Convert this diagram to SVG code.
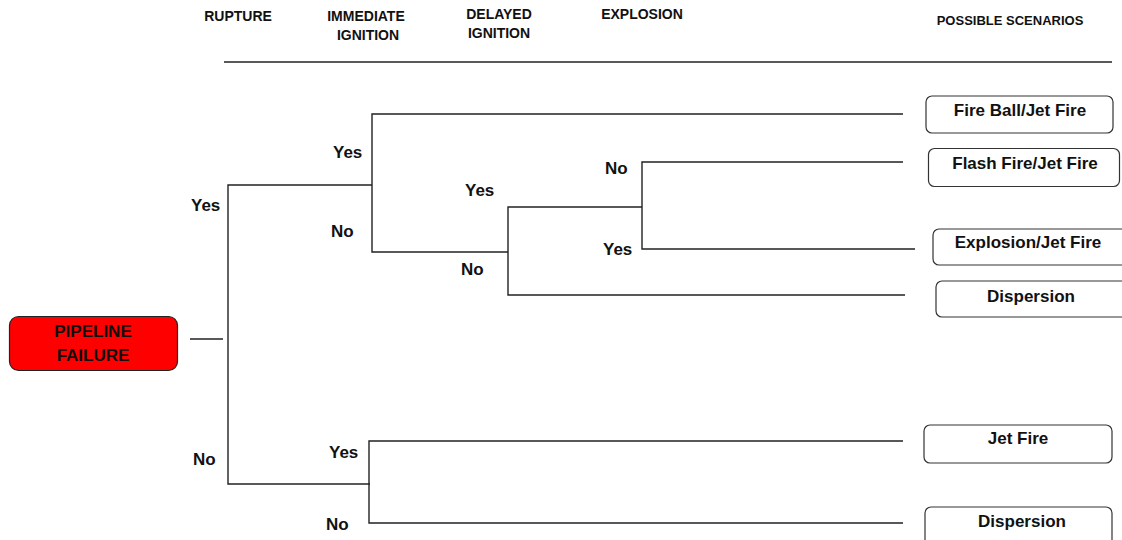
<svg xmlns="http://www.w3.org/2000/svg" width="1122" height="540" viewBox="0 0 1122 540">
  <style>
    text { font-family: "Liberation Sans", Arial, sans-serif; font-weight: bold; fill: #111; }
    .hdr { font-size: 14px; text-anchor: middle; }
    .hdr-s { font-size: 13px; text-anchor: middle; }
    .lbl { font-size: 17px; }
    .scn { font-size: 17px; text-anchor: middle; }
    .box { fill: #fff; stroke: #333; stroke-width: 1.2; }
    .edge { fill: none; stroke: #222; stroke-width: 1.4; }
  </style>

  <!-- column headings -->
  <g id="headers">
    <text class="hdr" x="238" y="21">RUPTURE</text>
    <text class="hdr" x="366" y="21">IMMEDIATE</text>
    <text class="hdr" x="368" y="40">IGNITION</text>
    <text class="hdr" x="499" y="19">DELAYED</text>
    <text class="hdr" x="499" y="38">IGNITION</text>
    <text class="hdr" x="642" y="19">EXPLOSION</text>
    <text class="hdr-s" x="1010" y="25">POSSIBLE SCENARIOS</text>
    <line x1="224" y1="62" x2="1112" y2="62" stroke="#222" stroke-width="1.4"/>
  </g>

  <!-- event tree branches -->
  <g id="connectors">
    <line class="edge" x1="190" y1="339" x2="223" y2="339"/>
    <!-- rupture split -->
    <polyline class="edge" points="372,185 228,185 228,484 370,484"/>
    <!-- immediate ignition after rupture -->
    <polyline class="edge" points="903,114 372,114 372,252 508,252"/>
    <!-- delayed ignition -->
    <polyline class="edge" points="642,207 508,207 508,295 905,295"/>
    <!-- explosion -->
    <polyline class="edge" points="903,162 642,162 642,249 915,249"/>
    <!-- immediate ignition, no rupture -->
    <polyline class="edge" points="903,441 369,441 369,523 903,523"/>
  </g>

  <!-- branch labels -->
  <g id="labels">
    <text class="lbl" x="191" y="211">Yes</text>
    <text class="lbl" x="193" y="465">No</text>
    <text class="lbl" x="333" y="158">Yes</text>
    <text class="lbl" x="331" y="237">No</text>
    <text class="lbl" x="465" y="196">Yes</text>
    <text class="lbl" x="461" y="275">No</text>
    <text class="lbl" x="605" y="174">No</text>
    <text class="lbl" x="603" y="255">Yes</text>
    <text class="lbl" x="329" y="458">Yes</text>
    <text class="lbl" x="326" y="530">No</text>
  </g>

  <!-- initiating event -->
  <g id="pipeline-failure">
    <rect x="9.5" y="316.5" width="168" height="54" rx="9" fill="#ff0000" stroke="#222" stroke-width="1.2"/>
    <text class="scn" x="93" y="337">PIPELINE</text>
    <text class="scn" x="93" y="361">FAILURE</text>
  </g>

  <!-- outcome scenarios -->
  <g id="fire-ball-jet-fire">
    <rect class="box" x="926" y="96" width="187" height="37" rx="6"/>
    <text class="scn" x="1020" y="116">Fire Ball/Jet Fire</text>
  </g>
  <g id="flash-fire-jet-fire">
    <rect class="box" x="928.5" y="148.5" width="191" height="38" rx="6"/>
    <text class="scn" x="1025" y="169">Flash Fire/Jet Fire</text>
  </g>
  <g id="explosion-jet-fire">
    <rect class="box" x="933" y="229" width="195" height="36" rx="6"/>
    <text class="scn" x="1028" y="248">Explosion/Jet Fire</text>
  </g>
  <g id="dispersion-1">
    <rect class="box" x="936" y="281" width="195" height="36" rx="6"/>
    <text class="scn" x="1031" y="302">Dispersion</text>
  </g>
  <g id="jet-fire">
    <rect class="box" x="924" y="425" width="188" height="38" rx="6"/>
    <text class="scn" x="1018" y="444">Jet Fire</text>
  </g>
  <g id="dispersion-2">
    <rect class="box" x="925" y="507" width="187" height="40" rx="6"/>
    <text class="scn" x="1022" y="527">Dispersion</text>
  </g>
</svg>
